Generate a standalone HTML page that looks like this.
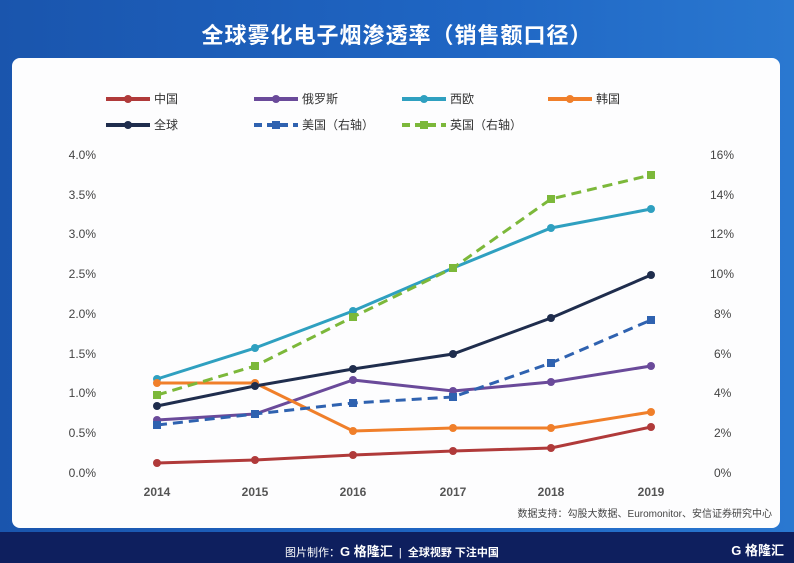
<!DOCTYPE html><html><head><meta charset="utf-8"><style>
body{margin:0;width:794px;height:563px;overflow:hidden;font-family:"Liberation Sans","Noto Sans CJK SC",sans-serif;background:linear-gradient(90deg,#1a55ad,#1f66c4 60%,#2a78d0);position:relative}
.title{position:absolute;top:18px;width:100%;text-align:center;color:#fff;font-size:22px;font-weight:bold;letter-spacing:1px}
.panel{position:absolute;left:12px;top:58px;width:768px;height:470px;background:#fdfdfe;border-radius:8px}
.foot{position:absolute;left:0;top:532px;width:794px;height:31px;background:#0e1f5e;color:#fff;font-size:11px}
</style></head><body>
<div class="title">全球雾化电子烟渗透率（销售额口径）</div>
<div class="panel"></div>
<svg width="794" height="563" style="position:absolute;left:0;top:0" font-family="Liberation Sans,Noto Sans CJK SC,sans-serif">
<g font-size="12" fill="#444">
<text x="96" y="159" text-anchor="end">4.0%</text><text x="96" y="199" text-anchor="end">3.5%</text><text x="96" y="238" text-anchor="end">3.0%</text><text x="96" y="278" text-anchor="end">2.5%</text><text x="96" y="318" text-anchor="end">2.0%</text><text x="96" y="358" text-anchor="end">1.5%</text><text x="96" y="397" text-anchor="end">1.0%</text><text x="96" y="437" text-anchor="end">0.5%</text><text x="96" y="477" text-anchor="end">0.0%</text>
<text x="710" y="159">16%</text><text x="710" y="199">14%</text><text x="710" y="238">12%</text><text x="710" y="278">10%</text><text x="714" y="318">8%</text><text x="714" y="358">6%</text><text x="714" y="397">4%</text><text x="714" y="437">2%</text><text x="714" y="477">0%</text>
<g text-anchor="middle" font-weight="bold" fill="#555"><text x="157" y="496">2014</text><text x="255" y="496">2015</text><text x="353" y="496">2016</text><text x="453" y="496">2017</text><text x="551" y="496">2018</text><text x="651" y="496">2019</text></g>
<text x="772" y="517" text-anchor="end" font-size="10">数据支持：勾股大数据、Euromonitor、安信证券研究中心</text>
</g>
<g font-size="12" fill="#333">
<line x1="106" y1="99" x2="150" y2="99" stroke="#b03a3a" stroke-width="4"/><circle cx="128" cy="99" r="4" fill="#b03a3a"/><text x="154" y="103">中国</text>
<line x1="254" y1="99" x2="298" y2="99" stroke="#6a4a9a" stroke-width="4"/><circle cx="276" cy="99" r="4" fill="#6a4a9a"/><text x="302" y="103">俄罗斯</text>
<line x1="402" y1="99" x2="446" y2="99" stroke="#2fa0c0" stroke-width="4"/><circle cx="424" cy="99" r="4" fill="#2fa0c0"/><text x="450" y="103">西欧</text>
<line x1="548" y1="99" x2="592" y2="99" stroke="#f07f2a" stroke-width="4"/><circle cx="570" cy="99" r="4" fill="#f07f2a"/><text x="596" y="103">韩国</text>
<line x1="106" y1="125" x2="150" y2="125" stroke="#1f2d4d" stroke-width="4"/><circle cx="128" cy="125" r="4" fill="#1f2d4d"/><text x="154" y="129">全球</text>
<line x1="254" y1="125" x2="298" y2="125" stroke="#2f62b0" stroke-width="4" stroke-dasharray="8,5"/><rect x="272" y="121" width="8" height="8" fill="#2f62b0"/><text x="302" y="129">美国（右轴）</text>
<line x1="402" y1="125" x2="446" y2="125" stroke="#7cb83a" stroke-width="4" stroke-dasharray="8,5"/><rect x="420" y="121" width="8" height="8" fill="#7cb83a"/><text x="450" y="129">英国（右轴）</text>
</g>
<g fill="none" stroke-width="3">
<polyline stroke="#b03a3a" points="157,463 255,460 353,455 453,451 551,448 651,427"/>
<polyline stroke="#6a4a9a" points="157,420 255,414 353,380 453,391 551,382 651,366"/>
<polyline stroke="#2fa0c0" points="157,379 255,348 353,311 453,268 551,228 651,209"/>
<polyline stroke="#f07f2a" points="157,383 255,383 353,431 453,428 551,428 651,412"/>
<polyline stroke="#1f2d4d" points="157,406 255,386 353,369 453,354 551,318 651,275"/>
<polyline stroke="#2f62b0" stroke-dasharray="10,6" points="157,425 255,414 353,403 453,397 551,363 651,320"/>
<polyline stroke="#7cb83a" stroke-dasharray="10,6" points="157,395 255,366 353,317 453,268 551,199 651,175"/>
</g>
<g fill="#b03a3a"><circle cx="157" cy="463" r="4"/><circle cx="255" cy="460" r="4"/><circle cx="353" cy="455" r="4"/><circle cx="453" cy="451" r="4"/><circle cx="551" cy="448" r="4"/><circle cx="651" cy="427" r="4"/></g>
<g fill="#6a4a9a"><circle cx="157" cy="420" r="4"/><circle cx="255" cy="414" r="4"/><circle cx="353" cy="380" r="4"/><circle cx="453" cy="391" r="4"/><circle cx="551" cy="382" r="4"/><circle cx="651" cy="366" r="4"/></g>
<g fill="#2fa0c0"><circle cx="157" cy="379" r="4"/><circle cx="255" cy="348" r="4"/><circle cx="353" cy="311" r="4"/><circle cx="453" cy="268" r="4"/><circle cx="551" cy="228" r="4"/><circle cx="651" cy="209" r="4"/></g>
<g fill="#f07f2a"><circle cx="157" cy="383" r="4"/><circle cx="255" cy="383" r="4"/><circle cx="353" cy="431" r="4"/><circle cx="453" cy="428" r="4"/><circle cx="551" cy="428" r="4"/><circle cx="651" cy="412" r="4"/></g>
<g fill="#1f2d4d"><circle cx="157" cy="406" r="4"/><circle cx="255" cy="386" r="4"/><circle cx="353" cy="369" r="4"/><circle cx="453" cy="354" r="4"/><circle cx="551" cy="318" r="4"/><circle cx="651" cy="275" r="4"/></g>
<g fill="#2f62b0"><rect x="153" y="421" width="8" height="8"/><rect x="251" y="410" width="8" height="8"/><rect x="349" y="399" width="8" height="8"/><rect x="449" y="393" width="8" height="8"/><rect x="547" y="359" width="8" height="8"/><rect x="647" y="316" width="8" height="8"/></g>
<g fill="#7cb83a"><rect x="153" y="391" width="8" height="8"/><rect x="251" y="362" width="8" height="8"/><rect x="349" y="313" width="8" height="8"/><rect x="449" y="264" width="8" height="8"/><rect x="547" y="195" width="8" height="8"/><rect x="647" y="171" width="8" height="8"/></g>
</svg>
<div class="foot"><span style="position:absolute;left:285px;top:9px">图片制作：<b style="font-size:13px">G 格隆汇</b> &nbsp;|&nbsp; <b>全球视野 下注中国</b></span><span style="position:absolute;right:10px;top:8px;font-weight:bold;font-size:13px">G 格隆汇</span></div>
</body></html>
